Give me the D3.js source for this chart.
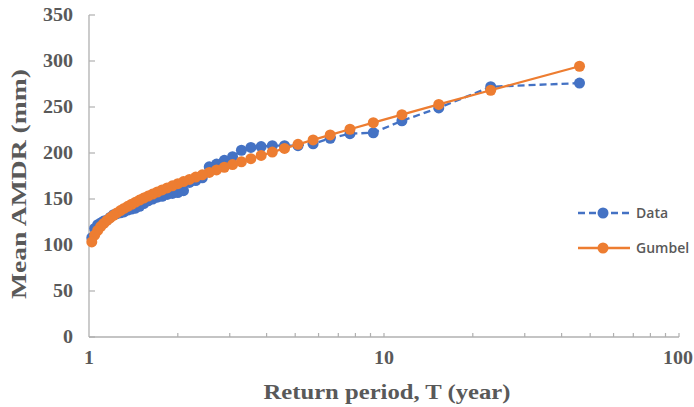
<!DOCTYPE html>
<html><head><meta charset="utf-8">
<script src="https://cdn.jsdelivr.net/npm/d3@7"></script>
<style>body{margin:0;background:#fff;}svg{display:block;}</style>
</head><body>
<svg id="c" width="694" height="407"></svg>
<script>
// Return periods T = 46/m, m = 1..45 (Weibull plotting positions)
const returnPeriods = [46,23,15.333,11.5,9.2,7.667,6.571,5.75,5.111,4.6,4.182,3.833,3.538,3.286,3.067,2.875,2.706,2.556,2.421,2.3,2.190,2.091,2.0,1.917,1.84,1.769,1.704,1.643,1.586,1.533,1.484,1.4375,1.394,1.353,1.314,1.278,1.243,1.211,1.179,1.15,1.122,1.095,1.070,1.045,1.022];
const dataValues = [276,272,249,235,222,221,216,210,208,208,208,207,206,203,196,192,188,185,173,170,168,159,157,156,155,153,152,150,148,145,142,140,139,138,136,135,134,133,130,127,126,124,122,118,108];
const gumbelValues = [294.3,268.2,252.8,241.7,233.0,225.8,219.7,214.2,209.4,205.0,201.0,197.3,193.8,190.5,187.4,184.5,181.6,178.9,176.3,173.8,171.3,168.9,166.6,164.3,162.0,159.8,157.6,155.4,153.2,151.0,148.8,146.6,144.3,142.1,139.7,137.4,134.9,132.3,129.6,126.7,123.5,120.0,115.8,110.7,103.3];
const yTicks = [0,50,100,150,200,250,300,350];
const xTickLabels = [1,10,100];
const seriesNames = ["Data","Gumbel"];

const svg = d3.select("#c");
const x = d3.scaleLog().domain([1,100]).range([89,679]);
const y = d3.scaleLinear().domain([0,350]).range([337,15]);
const axisCol = "#b0b0b0", textCol = "#595959";
const blue = "#4472C4", orange = "#ED7D31";
const serif = "'Liberation Serif','Times New Roman',serif";

// axes lines
svg.append("line").attr("x1",x(1)).attr("x2",x(1)).attr("y1",y(350)).attr("y2",y(0)).attr("stroke",axisCol).attr("stroke-width",1.3);
svg.append("line").attr("x1",x(1)).attr("x2",x(100)).attr("y1",y(0)).attr("y2",y(0)).attr("stroke",axisCol).attr("stroke-width",1.3);
// y ticks
svg.selectAll(".yt").data(yTicks).enter().append("line")
  .attr("x1",x(1)).attr("x2",x(1)+6).attr("y1",d=>y(d)).attr("y2",d=>y(d)).attr("stroke",axisCol).attr("stroke-width",1.2);
svg.selectAll(".yl").data(yTicks).enter().append("text")
  .attr("x",73).attr("y",d=>y(d)).attr("dy","0.35em").attr("text-anchor","end")
  .attr("font-family",serif).attr("font-weight","bold").attr("font-size",18)
  .attr("textLength",d=>String(d).length*10).attr("lengthAdjust","spacingAndGlyphs")
  .attr("fill",textCol).text(d=>d);
// x minor/major ticks
const xt = [];
[1,10].forEach(b=>{for(let k=2;k<=10;k++) xt.push(b*k);});
svg.selectAll(".xt").data(xt).enter().append("line")
  .attr("x1",d=>x(d)).attr("x2",d=>x(d)).attr("y1",y(0)).attr("y2",y(0)-4).attr("stroke",axisCol).attr("stroke-width",1.2);
svg.selectAll(".xl").data(xTickLabels).enter().append("text")
  .attr("x",d=>x(d)+(d===100?-1:0)).attr("y",364).attr("text-anchor","middle")
  .attr("font-family",serif).attr("font-weight","bold").attr("font-size",18)
  .attr("textLength",d=>String(d).length*10).attr("lengthAdjust","spacingAndGlyphs")
  .attr("fill",textCol).text(d=>d);
// titles
svg.append("text").attr("x",387).attr("y",399).attr("text-anchor","middle")
  .attr("font-family",serif).attr("font-weight","bold").attr("font-size",21)
  .attr("textLength",247).attr("lengthAdjust","spacingAndGlyphs")
  .attr("fill",textCol).text("Return period, T (year)");
svg.append("text").attr("transform","translate(26,184) rotate(-90)").attr("text-anchor","middle")
  .attr("font-family",serif).attr("font-weight","bold").attr("font-size",22)
  .attr("textLength",230).attr("lengthAdjust","spacingAndGlyphs")
  .attr("fill",textCol).text("Mean AMDR (mm)");

const dataPts = returnPeriods.map((t,i)=>({t, v:dataValues[i]}));
const gumPts = returnPeriods.map((t,i)=>({t, v:gumbelValues[i]}));
const line = d3.line().x(d=>x(d.t)).y(d=>y(d.v));

svg.append("path").datum(dataPts).attr("d",line).attr("fill","none").attr("stroke",blue).attr("stroke-width",2.3).attr("stroke-dasharray","7,4");
svg.selectAll(".dp").data(dataPts).enter().append("circle").attr("cx",d=>x(d.t)).attr("cy",d=>y(d.v)).attr("r",5.5).attr("fill",blue);
svg.append("path").datum(gumPts).attr("d",line).attr("fill","none").attr("stroke",orange).attr("stroke-width",2.3);
svg.selectAll(".gp").data(gumPts).enter().append("circle").attr("cx",d=>x(d.t)).attr("cy",d=>y(d.v)).attr("r",5.5).attr("fill",orange);

// legend
const leg = svg.append("g");
seriesNames.forEach((n,i)=>{
  const ly = 213 + i*35, col = i===0?blue:orange;
  leg.append("line").attr("x1",578).attr("x2",630).attr("y1",ly).attr("y2",ly).attr("stroke",col).attr("stroke-width",2.3).attr("stroke-dasharray",i===0?"7,4":null);
  leg.append("circle").attr("cx",603).attr("cy",ly).attr("r",5.5).attr("fill",col);
  leg.append("text").attr("x",636).attr("y",ly).attr("dy","0.35em").attr("font-family","'Open Sans',sans-serif").attr("font-weight",600).attr("font-size",14).attr("fill",textCol).text(n);
});
</script>
</body></html>
